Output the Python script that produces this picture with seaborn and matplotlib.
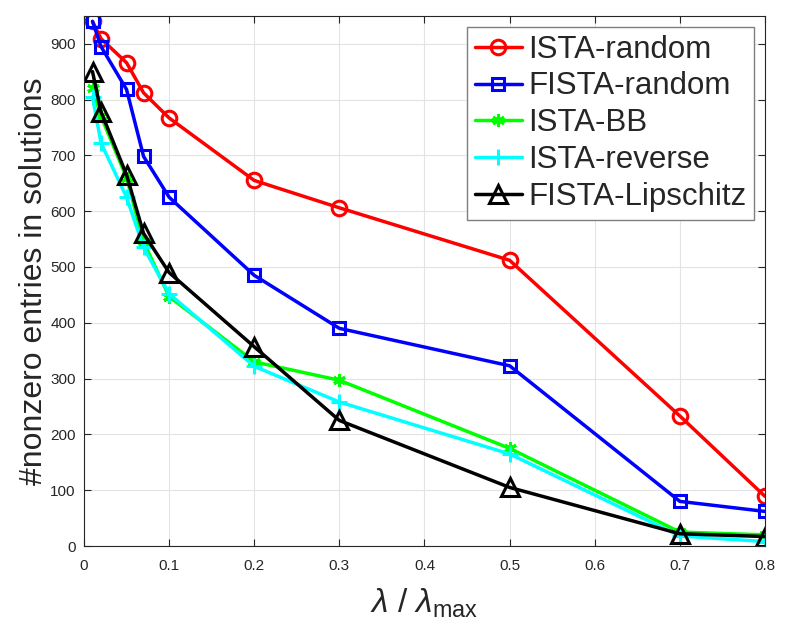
import numpy as np
import pandas as pd
import matplotlib
matplotlib.use("Agg")
import matplotlib.pyplot as plt
import seaborn as sns
from matplotlib.ticker import FuncFormatter

# lambda / lambda_max values
lam = [0.01, 0.02, 0.05, 0.07, 0.1, 0.2, 0.3, 0.5, 0.7, 0.8]

ista_random = [940, 909, 866, 812, 767, 655, 606, 512, 233, 89]
fista_random = [940, 895, 818, 698, 625, 485, 390, 323, 80, 62]
ista_bb = [820, 770, 660, 545, 447, 330, 297, 175, 25, 20]
ista_reverse = [805, 722, 625, 535, 452, 322, 258, 165, 18, 8]
fista_lip = [850, 778, 665, 560, 490, 357, 225, 105, 22, 17]

names = ["ISTA-random", "FISTA-random", "ISTA-BB", "ISTA-reverse", "FISTA-Lipschitz"]
series = [ista_random, fista_random, ista_bb, ista_reverse, fista_lip]
colors = ["#ff0000", "#0000ff", "#00ff00", "#00ffff", "#000000"]
markers = ["o", "s", (6, 2, 0), "+", "^"]
msizes = [10.5, 9, 9, 12, 13]

sns.set_style("ticks")
plt.rcParams["font.family"] = ["Liberation Sans", "DejaVu Sans"]
plt.rcParams["mathtext.fontset"] = "custom"
plt.rcParams["mathtext.rm"] = "Liberation Sans"
plt.rcParams["mathtext.it"] = "Liberation Sans:italic"

df = pd.DataFrame({
    "lam": np.tile(lam, len(names)),
    "nnz": np.concatenate(series),
    "method": np.repeat(names, len(lam)),
})

fig = plt.figure(figsize=(7.88, 6.33), dpi=100)
ax = fig.add_axes([0.1066, 0.1374, 0.8642, 0.8376])

for name, c, m, ms in zip(names, colors, markers, msizes):
    sns.lineplot(data=df[df.method == name], x="lam", y="nnz", ax=ax,
                 color=c, marker=m, markersize=ms, mfc="none", mec=c,
                 mew=2.2, lw=2.5, label=name, estimator=None, sort=False)

ax.set_xlim(0, 0.8)
ax.set_ylim(0, 950)
ax.set_xticks(np.arange(0, 0.81, 0.1))
ax.set_yticks(np.arange(0, 901, 100))
ax.xaxis.set_major_formatter(FuncFormatter(lambda v, p: "%g" % round(v, 2)))
ax.grid(True, color="#e3e3e3", lw=0.8)
ax.set_axisbelow(True)
for s in ax.spines.values():
    s.set_color("#262626")
    s.set_linewidth(0.8)
ax.tick_params(direction="in", top=True, right=True, length=5,
               labelsize=11, colors="#262626", width=0.8)
ax.tick_params(axis="x", pad=9)
ax.tick_params(axis="y", pad=6)

ax.set_xlabel(r"$\lambda$ / $\lambda_{\mathrm{max}}$", fontsize=24,
              color="#262626", labelpad=10)
ax.set_ylabel("#nonzero entries in solutions", fontsize=23,
              color="#262626", labelpad=1)

leg = ax.legend(loc="upper right", fontsize=22.5, handlelength=1.5,
                labelspacing=0.22, borderaxespad=0.35, handletextpad=0.2,
                borderpad=0.25, fancybox=False, framealpha=1)
leg.get_frame().set_edgecolor("#7f7f7f")
leg.get_frame().set_linewidth(1)

fig.savefig("out.png", dpi=100)
